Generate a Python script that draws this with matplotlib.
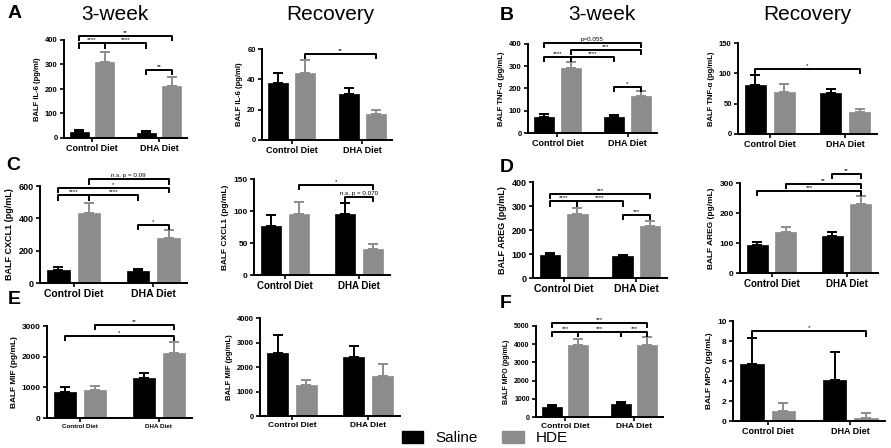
import numpy as np
import matplotlib.pyplot as plt
from matplotlib.patches import Patch

plt.rcParams['font.family'] = ['Liberation Sans', 'DejaVu Sans']

# urutan: Control-Saline, Control-HDE, DHA-Saline, DHA-HDE
groups = ['Control Diet', 'DHA Diet']
black = '#000000'
grey = '#8c8c8c'

il6_wk = [25, 312, 20, 212]
il6_wk_err = [8, 40, 7, 38]
il6_rec = [37.5, 44.5, 30.5, 17]
il6_rec_err = [7, 8, 3.5, 2.5]

tnf_wk = [72, 293, 70, 165]
tnf_wk_err = [12, 25, 12, 22]
tnf_rec = [81, 70, 67, 37]
tnf_rec_err = [16, 12, 7, 5]

cxcl1_wk = [80, 430, 72, 278]
cxcl1_wk_err = [18, 65, 12, 50]
cxcl1_rec = [77, 96, 96, 41]
cxcl1_rec_err = [16, 18, 17, 8]

areg_wk = [97, 268, 90, 216]
areg_wk_err = [8, 25, 7, 20]
areg_rec = [93, 137, 125, 230]
areg_rec_err = [10, 17, 11, 27]

mif_wk = [850, 900, 1310, 2130]
mif_wk_err = [160, 150, 150, 350]
mif_rec = [2570, 1250, 2400, 1640]
mif_rec_err = [750, 200, 460, 480]

mpo_wk = [560, 3970, 700, 3980]
mpo_wk_err = [100, 320, 100, 420]
mpo_rec = [5.7, 1.05, 4.1, 0.35]
mpo_rec_err = [2.6, 0.75, 2.8, 0.5]

# bracket: (bar_i, bar_j, y, label)
il6_wk_sig = [(0, 1, 386, '****'), (1, 2, 386, '****'), (0, 3, 416, '**'), (2, 3, 278, '**')]
il6_rec_sig = [(1, 3, 57, '**')]
tnf_wk_sig = [(0, 3, 406, 'p=0.055'), (1, 3, 373, '***'), (0, 1, 340, '****'),
              (1, 2, 340, '****'), (2, 3, 205, '*')]
tnf_rec_sig = [(0, 3, 107, '*')]
cxcl1_wk_sig = [(1, 3, 641, 'n.s. p = 0.09'), (0, 3, 588, '*'), (0, 1, 542, '****'),
                (1, 2, 542, '****'), (2, 3, 361, '*')]
cxcl1_rec_sig = [(1, 3, 141, '*'), (2, 3, 122, 'n.s. p = 0.070')]
areg_wk_sig = [(0, 3, 350, '***'), (0, 1, 319, '****'), (1, 2, 319, '****'), (2, 3, 264, '***')]
areg_rec_sig = [(2, 3, 330, '**'), (1, 3, 297, '**'), (0, 3, 272, '***')]
mif_wk_sig = [(1, 3, 3043, '**'), (0, 3, 2676, '*')]
mif_rec_sig = []
mpo_wk_sig = [(0, 3, 5147, '***'), (0, 1, 4688, '***'), (1, 2, 4688, '***'), (2, 3, 4688, '***')]
mpo_rec_sig = [(0, 3, 9.0, '*')]

W, H = 891, 448
fig = plt.figure(figsize=(W / 100, H / 100), dpi=100)

d = 0.19
xpos = np.array([-d, d, 1 - d, 1 + d])
colors = [black, grey, black, grey]


def panel(box, vals, errs, sig, ymax, ystep, ylabel, fs=5.5, xfs=6.5):
    l, t, r, b = box
    ax = fig.add_axes([l / W, 1 - b / H, (r - l) / W, (b - t) / H])
    ax.bar(xpos, vals, width=0.28, color=colors, edgecolor=colors, linewidth=0.5, zorder=2)
    for x, v, e, c in zip(xpos, vals, errs, colors):
        ax.errorbar(x, v, yerr=[[0], [e]], fmt='none', ecolor=c, elinewidth=1.4,
                    capsize=3.5, capthick=1.4, zorder=1)
    ax.set_xlim(-0.42, 1.42)
    ax.set_ylim(0, ymax)
    ax.set_yticks(np.arange(0, ymax + ystep / 2, ystep))
    ax.set_xticks([0, 1])
    ax.set_xticklabels(groups, fontsize=xfs, fontweight='bold')
    ax.set_ylabel(ylabel, fontsize=fs, fontweight='bold', labelpad=3)
    for lab in ax.get_yticklabels():
        lab.set_fontsize(fs)
        lab.set_fontweight('bold')
    for s in ['top', 'right']:
        ax.spines[s].set_visible(False)
    for s in ['left', 'bottom']:
        ax.spines[s].set_linewidth(1.4)
    ax.tick_params(width=1.2, length=3, pad=1.5)
    drop = 0.045 * ymax
    for i, j, y, lab in sig:
        ax.plot([xpos[i], xpos[i], xpos[j], xpos[j]], [y - drop, y, y, y - drop],
                color='black', lw=1.4, clip_on=False)
        ax.text((xpos[i] + xpos[j]) / 2, y + 0.01 * ymax, lab, ha='center', va='bottom',
                fontsize=4.5, clip_on=False)
    return ax


panel((64, 40, 187, 138), il6_wk, il6_wk_err, il6_wk_sig, 400, 100, 'BALF IL-6 (pg/ml)')
panel((262, 49, 392, 140), il6_rec, il6_rec_err, il6_rec_sig, 60, 20, 'BALF IL-6 (pg/ml)')
panel((528, 44, 657, 133), tnf_wk, tnf_wk_err, tnf_wk_sig, 400, 100, 'BALF TNF-α (pg/mL)')
panel((738, 43, 877, 134), tnf_rec, tnf_rec_err, tnf_rec_sig, 150, 50, 'BALF TNF-α (pg/mL)')
panel((40, 186, 187, 283), cxcl1_wk, cxcl1_wk_err, cxcl1_wk_sig, 600, 200,
      'BALF CXCL1 (pg/mL)', fs=6.5, xfs=7.5)
panel((254, 179, 390, 275), cxcl1_rec, cxcl1_rec_err, cxcl1_rec_sig, 150, 50,
      'BALF CXCL1 (pg/mL)', fs=6, xfs=7)
panel((533, 182, 667, 278), areg_wk, areg_wk_err, areg_wk_sig, 400, 100,
      'BALF AREG (pg/mL)', fs=6.5, xfs=7.5)
panel((740, 183, 878, 273), areg_rec, areg_rec_err, areg_rec_sig, 300, 100,
      'BALF AREG (pg/mL)', fs=6, xfs=7)
panel((47, 326, 192, 418), mif_wk, mif_wk_err, mif_wk_sig, 3000, 1000,
      'BALF MIF (pg/mL)', fs=6, xfs=4.5)
panel((260, 318, 400, 416), mif_rec, mif_rec_err, mif_rec_sig, 4000, 1000,
      'BALF MIF (pg/mL)', fs=5.5, xfs=6)
panel((536, 326, 663, 417), mpo_wk, mpo_wk_err, mpo_wk_sig, 5000, 1000,
      'BALF MPO (pg/mL)', fs=5, xfs=6)
panel((733, 321, 885, 421), mpo_rec, mpo_rec_err, mpo_rec_sig, 10, 2,
      'BALF MPO (pg/mL)', fs=6, xfs=6.5)

# judul kolom
for x, txt in [(115, '3-week'), (330, 'Recovery'), (602, '3-week'), (807, 'Recovery')]:
    fig.text(x / W, 1 - 15 / H, txt, ha='center', va='center', fontsize=15)

# huruf panel
for x, y, txt in [(8, 14, 'A'), (500, 15, 'B'), (6, 165, 'C'), (500, 168, 'D'),
                  (8, 300, 'E'), (500, 303, 'F')]:
    fig.text(x / W, 1 - y / H, txt, ha='left', va='center', fontsize=14, fontweight='bold')

handles = [Patch(color=black, label='Saline'), Patch(color=grey, label='HDE')]
fig.legend(handles=handles, loc='center', bbox_to_anchor=(485 / W, 1 - 438 / H), ncol=2,
           frameon=False, fontsize=11, handlelength=1.4, handleheight=0.9,
           columnspacing=1.6, handletextpad=0.8)

fig.savefig('out.png', dpi=100)
